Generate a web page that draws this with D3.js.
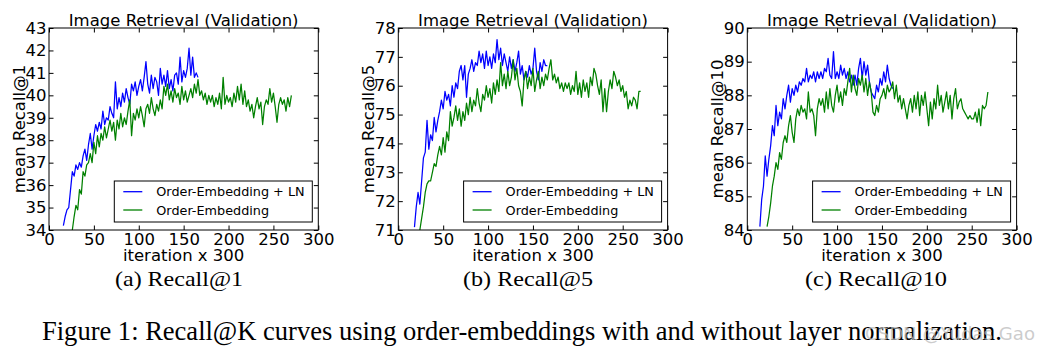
<!DOCTYPE html>
<html>
<head>
<meta charset="utf-8">
<script src="https://cdn.jsdelivr.net/npm/d3@7"></script>
<style>
  html, body { margin: 0; padding: 0; background: #fff; }
  svg { display: block; }
</style>
</head>
<body>
<svg id="chart" width="1041" height="355"></svg>
<script>
// ---------------- DATA ----------------
const panelTitles = ["Image Retrieval (Validation)", "Image Retrieval (Validation)", "Image Retrieval (Validation)"];
const yLabels = ["mean Recall@1", "mean Recall@5", "mean Recall@10"];
const xLabel = "iteration x 300";
const subCaptions = ["(a) Recall@1", "(b) Recall@5", "(c) Recall@10"];
const figureCaption = "Figure 1: Recall@K curves using order-embeddings with and without layer normalization.";
const watermark = "CSDN @Yudas Gao";
const seriesNames = ["Order-Embedding + LN", "Order-Embedding"];

const xTicks = [0, 50, 100, 150, 200, 250, 300];
const yTicksR1 = [34, 35, 36, 37, 38, 39, 40, 41, 42, 43];
const yTicksR5 = [71, 72, 73, 74, 75, 76, 77, 78];
const yTicksR10 = [84, 85, 86, 87, 88, 89, 90];

// evaluation every 2 units of (iteration x 300)
const evalStep = 2;
const lnStart = [16, 18, 14];
const oeStart = [26, 24, 22];

// Recall@1
const lnR1 = [34.2,34.6,34.9,35.0,35.8,36.6,36.4,36.9,36.7,37.0,36.8,37.3,37.6,37.1,37.8,38.3,37.6,38.2,38.7,38.4,
  38.8,38.5,39.3,38.7,39.0,38.9,39.5,39.2,39.0,40.6,39.4,39.9,39.5,40.1,39.7,40.3,39.9,39.6,40.5,40.2,
  40.6,40.0,40.4,40.7,40.2,40.8,41.5,40.5,40.1,40.9,40.3,40.8,40.6,40.0,41.2,40.5,40.9,40.4,41.1,40.3,
  40.7,40.2,40.9,41.0,40.5,41.7,40.6,41.1,40.8,41.2,42.1,40.9,41.7,40.8,41.0,40.8];
const oeR1 = [34.0,34.6,35.1,34.9,35.8,35.6,36.6,36.4,36.9,37.0,37.4,37.0,37.9,37.4,38.2,37.7,38.3,38.0,38.6,38.1,
  38.5,38.9,38.4,38.8,38.0,38.9,38.5,39.2,38.6,39.0,38.7,39.3,39.8,38.2,39.2,38.9,39.4,39.0,39.5,39.1,
  38.6,39.4,39.6,39.2,39.9,39.4,39.1,39.6,39.3,39.8,39.4,40.4,40.0,40.5,39.8,40.2,39.7,40.3,39.9,40.1,
  39.6,40.4,39.8,40.2,39.7,40.0,40.3,39.9,40.5,40.1,40.7,40.0,40.2,39.8,40.1,39.6,40.0,39.7,40.0,39.5,
  39.9,39.6,40.1,39.4,40.8,39.6,40.0,39.7,39.9,39.5,40.1,39.7,40.4,39.8,40.5,39.6,40.2,39.5,39.8,39.3,
  39.6,39.0,39.5,39.9,39.4,39.7,38.7,39.5,39.8,39.6,40.3,39.7,40.1,39.5,38.8,39.6,39.9,39.6,39.8,39.3,
  39.9,39.5,40.0];

// Recall@5
const lnR5 = [71.1,71.8,72.3,71.9,72.7,73.5,73.7,74.8,73.8,74.3,74.1,74.9,74.4,74.8,75.1,75.5,75.2,75.8,75.5,75.7,
  75.3,76.0,75.6,76.1,75.9,76.5,76.7,76.2,76.7,75.6,76.4,76.6,76.9,76.5,76.8,76.7,77.2,76.8,77.1,76.6,
  77.2,76.7,77.0,76.6,77.1,76.8,77.6,76.9,77.3,76.7,77.1,76.8,76.5,77.0,76.6,76.9,76.5,76.8,77.2,76.4,
  76.7,76.2,76.5,76.3,76.7,76.4,76.6,77.3,76.5,76.2,76.8,76.5,76.9,76.7,76.7];
const oeR5 = [71.0,71.4,71.8,72.3,72.6,72.7,72.7,73.0,73.3,73.2,73.6,73.9,73.6,74.2,73.7,74.4,74.1,75.1,74.6,74.9,
  75.3,74.8,75.2,74.6,75.1,74.8,75.4,75.0,75.6,75.1,75.5,75.3,75.9,75.4,75.1,75.7,75.5,76.0,75.6,75.9,
  75.4,76.1,75.7,76.2,75.8,76.8,76.0,76.4,75.9,76.5,76.0,76.3,76.9,76.2,76.6,76.0,75.8,75.3,76.2,76.5,
  75.9,76.3,76.0,76.6,75.8,76.2,76.5,75.9,76.3,76.0,76.4,76.2,76.6,76.9,76.2,76.4,76.1,76.3,75.9,76.1,
  75.8,76.1,75.9,76.1,75.7,76.0,75.8,76.5,75.7,76.1,75.6,76.2,75.8,76.1,75.6,76.3,76.0,76.6,76.4,76.0,
  75.7,76.2,75.1,75.9,75.1,75.8,76.2,75.9,76.5,76.3,76.0,76.2,75.8,76.0,75.6,75.8,75.2,75.5,75.3,75.6,
  75.5,75.2,75.8,75.8];

// Recall@10
const lnR10 = [84.1,84.9,85.3,86.2,85.6,86.1,86.5,87.1,86.8,87.7,87.1,87.5,87.3,87.9,87.6,88.0,88.3,87.8,88.2,88.0,
  88.3,88.1,88.4,88.3,88.5,88.4,88.8,88.4,88.6,88.5,88.7,88.4,88.7,88.5,88.7,88.5,88.8,88.7,89.1,88.6,
  88.5,89.3,88.5,88.7,88.5,88.9,88.6,88.8,88.5,88.7,88.4,88.6,88.3,88.6,88.3,88.8,89.1,88.5,89.0,88.6,
  88.9,88.4,88.1,88.0,87.9,88.3,88.1,88.5,88.3,88.7,88.4,88.9,88.5,88.3,88.2];
const oeR10 = [84.1,84.4,84.8,85.3,85.6,86.0,85.8,86.3,86.1,86.6,86.8,86.6,87.1,87.4,86.9,86.6,87.3,87.6,87.4,87.7,
  87.5,87.6,87.3,88.1,87.5,87.6,87.4,86.8,87.6,87.9,87.7,87.9,87.5,88.1,87.6,88.2,87.7,87.5,88.0,88.3,
  87.8,88.1,87.7,88.2,88.0,88.4,88.8,88.1,88.6,88.2,88.0,88.5,88.3,88.6,88.1,88.5,88.0,88.4,88.1,87.5,
  87.4,87.7,87.5,87.9,88.0,88.2,87.9,88.3,88.1,88.2,88.4,87.9,88.3,87.8,88.0,87.6,87.9,87.6,87.3,87.7,
  87.9,87.5,88.0,87.6,88.1,87.4,88.0,87.7,88.1,87.6,87.1,87.8,87.3,87.9,87.6,88.3,87.7,88.0,87.5,87.8,
  88.1,87.6,88.0,87.3,87.9,88.2,87.6,87.8,87.9,87.6,87.5,87.4,87.3,87.4,87.3,87.3,87.5,87.2,87.6,87.1,
  87.7,87.6,87.7,88.1];

const lnSeries = [lnR1, lnR5, lnR10];
const oeSeries = [oeR1, oeR5, oeR10];
const yTickSets = [yTicksR1, yTicksR5, yTicksR10];
const yDomains = [[34, 43], [71, 78], [84, 90]];

// ---------------- LAYOUT ----------------
const colors = { ln: "#0000ff", oe: "#008000" };
const panelLeft = [49, 398.3, 747.3];
const plotW = 269.3;
const plotTop = 28, plotBottom = 230;
const sans = "'DejaVu Sans', 'Bitstream Vera Sans', sans-serif";
const serif = "'Liberation Serif', 'Times New Roman', serif";
const tickLen = 4.5;
const fs = "16.5px";

const svg = d3.select("#chart");

for (let p = 0; p < 3; p++) {
  const left = panelLeft[p], right = left + plotW;
  const x = d3.scaleLinear().domain([0, 300]).range([left, right]);
  const y = d3.scaleLinear().domain(yDomains[p]).range([plotBottom, plotTop]);
  const g = svg.append("g");

  const clipId = "clip" + p;
  svg.append("clipPath").attr("id", clipId)
    .append("rect").attr("x", left).attr("y", plotTop)
    .attr("width", plotW).attr("height", plotBottom - plotTop);

  // lines
  const mk = (start) => d3.line()
    .x((d, i) => x(start + i * evalStep))
    .y(d => y(d));
  const lg = g.append("g").attr("clip-path", `url(#${clipId})`);
  lg.append("path").datum(lnSeries[p])
    .attr("d", mk(lnStart[p])).attr("fill", "none")
    .attr("stroke", colors.ln).attr("stroke-width", 1.25).attr("stroke-linejoin", "round");
  lg.append("path").datum(oeSeries[p])
    .attr("d", mk(oeStart[p])).attr("fill", "none")
    .attr("stroke", colors.oe).attr("stroke-width", 1.25).attr("stroke-linejoin", "round");

  // axes with inward ticks on all sides
  const styleAxis = (sel) => {
    sel.select(".domain").remove();
    sel.selectAll(".tick line").attr("stroke", "#000").attr("stroke-width", 1);
    sel.selectAll("text").attr("font-family", sans).attr("font-size", fs).attr("fill", "#000");
  };
  const bottomAxis = d3.axisBottom(x).tickValues(xTicks).tickFormat(d3.format("d"))
    .tickSizeInner(-tickLen).tickSizeOuter(0).tickPadding(0);
  g.append("g").attr("transform", `translate(0,${plotBottom})`).call(bottomAxis).call(styleAxis)
    .selectAll("text").attr("dy", "0.9em");
  const topAxis = d3.axisTop(x).tickValues(xTicks).tickFormat("")
    .tickSizeInner(-tickLen).tickSizeOuter(0);
  g.append("g").attr("transform", `translate(0,${plotTop})`).call(topAxis).call(styleAxis);
  const leftAxis = d3.axisLeft(y).tickValues(yTickSets[p]).tickFormat(d3.format("d"))
    .tickSizeInner(-tickLen).tickSizeOuter(0).tickPadding(2.5);
  g.append("g").attr("transform", `translate(${left},0)`).call(leftAxis).call(styleAxis);
  const rightAxis = d3.axisRight(y).tickValues(yTickSets[p]).tickFormat("")
    .tickSizeInner(-tickLen).tickSizeOuter(0);
  g.append("g").attr("transform", `translate(${right},0)`).call(rightAxis).call(styleAxis);

  // frame
  g.append("rect").attr("x", left).attr("y", plotTop)
    .attr("width", plotW).attr("height", plotBottom - plotTop)
    .attr("fill", "none").attr("stroke", "#000").attr("stroke-width", 1);

  // title
  g.append("text").attr("x", (left + right) / 2).attr("y", 26)
    .attr("text-anchor", "middle").attr("font-family", sans).attr("font-size", fs)
    .text(panelTitles[p]);

  // y label
  g.append("text")
    .attr("transform", `translate(${left - 24.5},${(plotTop + plotBottom) / 2}) rotate(-90)`)
    .attr("text-anchor", "middle").attr("font-family", sans).attr("font-size", fs)
    .text(yLabels[p]);

  // x label
  g.append("text").attr("x", (left + right) / 2).attr("y", 260.5)
    .attr("text-anchor", "middle").attr("font-family", sans).attr("font-size", fs)
    .text(xLabel);

  // legend
  const legW = 198, legH = 41;
  const legX = right - 6 - legW, legY = 181;
  const leg = g.append("g");
  leg.append("rect").attr("x", legX).attr("y", legY).attr("width", legW).attr("height", legH)
    .attr("fill", "#fff").attr("stroke", "#000").attr("stroke-width", 1);
  const entries = [{ name: seriesNames[0], c: colors.ln }, { name: seriesNames[1], c: colors.oe }];
  entries.forEach((e, i) => {
    const ly = legY + 10.7 + i * 18.3;
    leg.append("line").attr("x1", legX + 9).attr("x2", legX + 28).attr("y1", ly).attr("y2", ly)
      .attr("stroke", e.c).attr("stroke-width", 1.3);
    leg.append("text").attr("x", legX + 42).attr("y", ly + 4.6)
      .attr("font-family", sans).attr("font-size", "12.8px").text(e.name);
  });
}

// sub-captions
const subCapPos = [[115, 128], [463, 130], [805, 142]];
subCaptions.forEach((t, i) => {
  svg.append("text").attr("x", subCapPos[i][0]).attr("y", 286)
    .attr("font-family", serif).attr("font-size", "21px")
    .attr("textLength", subCapPos[i][1]).attr("lengthAdjust", "spacingAndGlyphs")
    .text(t);
});

// figure caption
svg.append("text").attr("x", 42).attr("y", 340)
  .attr("font-family", serif).attr("font-size", "26.5px")
  .attr("textLength", 960).attr("lengthAdjust", "spacingAndGlyphs")
  .text(figureCaption);

// watermark
svg.append("text").attr("x", 865).attr("y", 340)
  .attr("font-family", sans).attr("font-size", "17px")
  .attr("textLength", 170).attr("lengthAdjust", "spacingAndGlyphs")
  .attr("fill", "#bbbbbb").attr("fill-opacity", 0.75)
  .text(watermark);
</script>
</body>
</html>
